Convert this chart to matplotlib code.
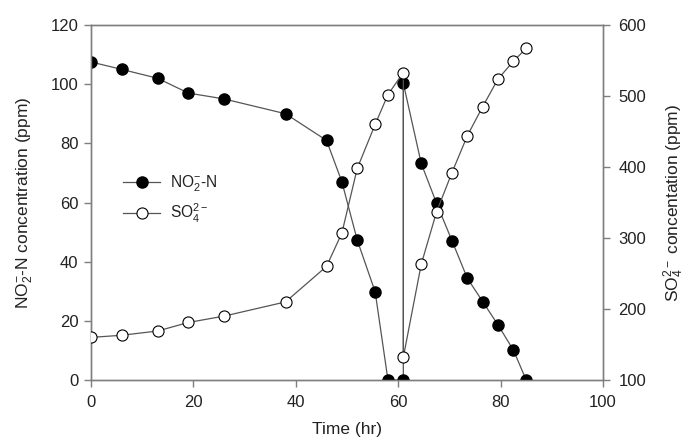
import matplotlib
matplotlib.use("Agg")
import matplotlib.pyplot as plt

plt.rcParams['font.family'] = ['Liberation Sans', 'DejaVu Sans']
plt.rcParams['mathtext.fontset'] = 'custom'
plt.rcParams['mathtext.rm'] = 'Liberation Sans'
plt.rcParams['mathtext.it'] = 'Liberation Sans'
plt.rcParams['mathtext.default'] = 'regular'

time_no2 = [0, 6, 13, 19, 26, 38, 46, 49, 52, 55.5, 58, 61, 61, 64.5, 67.5, 70.5, 73.5, 76.5, 79.5, 82.5, 85]
no2 = [107.5, 105, 102, 97, 95, 90, 81, 67, 47.3, 29.8, 0, 0, 100.3, 73.2, 59.7, 47.1, 34.4, 26.5, 18.6, 10.1, 0]

time_so4 = [0, 6, 13, 19, 26, 38, 46, 49, 52, 55.5, 58, 61, 61, 64.5, 67.5, 70.5, 73.5, 76.5, 79.5, 82.5, 85]
so4 = [160, 163, 169, 181, 190, 210, 260, 307, 398, 460, 502, 533, 132, 263, 337, 392, 444, 485, 524, 549, 567]

xticks = [0, 20, 40, 60, 80, 100]
yticks_left = [0, 20, 40, 60, 80, 100, 120]
yticks_right = [100, 200, 300, 400, 500, 600]

fig = plt.figure(figsize=(6.89, 4.38), dpi=100)
ax = fig.add_axes([91/689, 58/438, 512/689, 355/438])
ax2 = ax.twinx()

spine_c = '#7f7f7f'
line_c = '#555555'
txt_c = '#222222'

l1, = ax.plot(time_no2, no2, '-o', color=line_c, lw=0.9, marker='o', ms=8,
              mfc='black', mec='black', label='NO$_2^{-}$-N', zorder=3)
l2, = ax2.plot(time_so4, so4, '-o', color=line_c, lw=0.9, marker='o', ms=8,
               mfc='white', mec='black', mew=0.8, label='SO$_4^{2-}$', zorder=3)

ax.set_xlim(0, 100)
ax.set_ylim(0, 120)
ax2.set_ylim(100, 600)
ax.set_xticks(xticks)
ax.set_yticks(yticks_left)
ax2.set_yticks(yticks_right)

for a in (ax, ax2):
    for s in a.spines.values():
        s.set_color(spine_c)
        s.set_linewidth(1.0)
    a.tick_params(direction='out', length=5, width=1, color=spine_c,
                  labelsize=12, labelcolor=txt_c, pad=4)
ax.tick_params(axis='x', pad=6)
ax2.tick_params(axis='y', pad=6)

ax.set_xlabel('Time (hr)', fontsize=12.5, color=txt_c)
ax.set_ylabel('NO$_2^{-}$-N concentration (ppm)', fontsize=12.5, color=txt_c)
ax2.set_ylabel('SO$_4^{2-}$ concentation (ppm)', fontsize=12.5, color=txt_c)
ax.yaxis.set_label_coords(-0.11, 0.5)
ax2.yaxis.set_label_coords(1.115, 0.5)
ax.xaxis.set_label_coords(0.5, -0.118)

leg = ax.legend(handles=[l1, l2], loc='upper left', bbox_to_anchor=(0.035, 0.62),
                frameon=False, fontsize=11.2, handlelength=2.4, handletextpad=0.6,
                labelspacing=0.45)
for t in leg.get_texts():
    t.set_color(txt_c)

fig.savefig('out.png', dpi=100)
